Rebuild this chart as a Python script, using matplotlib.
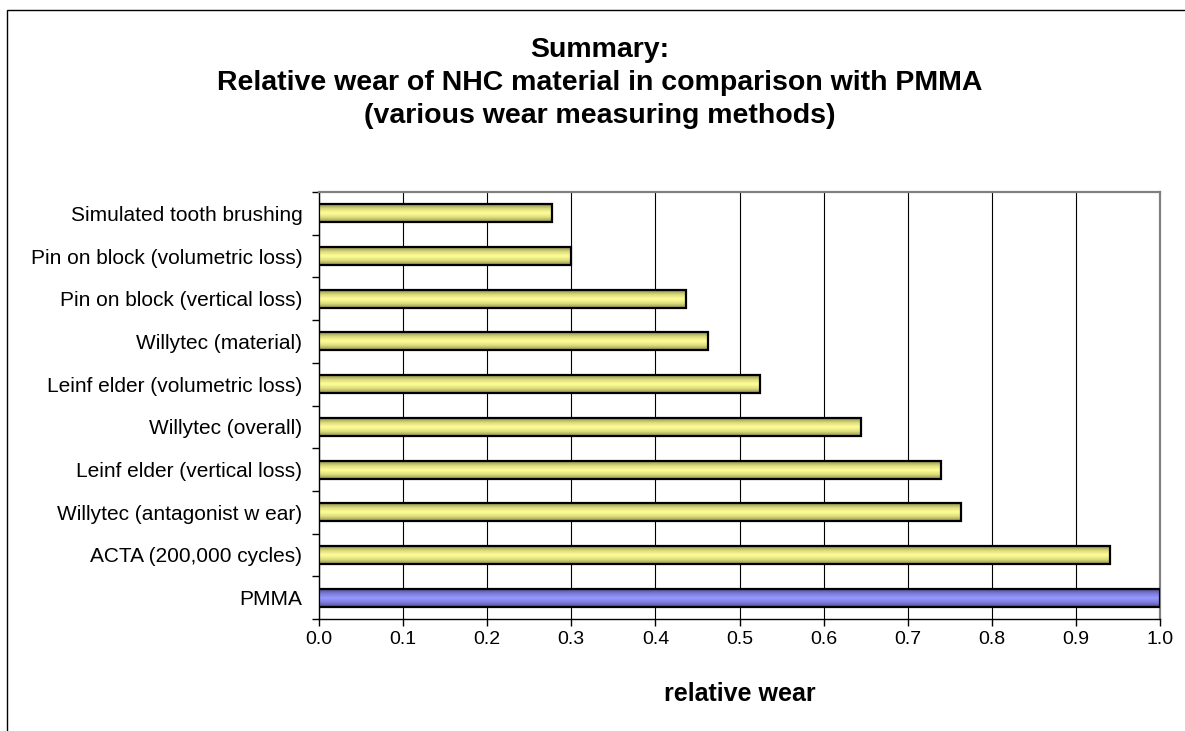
import numpy as np
import matplotlib
matplotlib.use('Agg')
import matplotlib.pyplot as plt
from matplotlib.colors import LinearSegmentedColormap
from matplotlib.patches import Rectangle

plt.rcParams['font.family'] = ['Liberation Sans', 'DejaVu Sans']

# datos, de abajo hacia arriba
metodos = ['PMMA', 'ACTA (200,000 cycles)', 'Willytec (antagonist w ear)',
           'Leinf elder (vertical loss)', 'Willytec (overall)',
           'Leinf elder (volumetric loss)', 'Willytec (material)',
           'Pin on block (vertical loss)', 'Pin on block (volumetric loss)',
           'Simulated tooth brushing']
desgaste = [1.0, 0.940, 0.763, 0.740, 0.645, 0.524, 0.462, 0.436, 0.300, 0.277]
x_ticks = [0.0, 0.1, 0.2, 0.3, 0.4, 0.5, 0.6, 0.7, 0.8, 0.9, 1.0]

amarillo = LinearSegmentedColormap.from_list('am', ['#8f8f50', '#dcdc7c', '#ffff99', '#dcdc7c', '#8f8f50'])
azul = LinearSegmentedColormap.from_list('az', ['#50508f', '#7c7cdc', '#9999ff', '#7c7cdc', '#50508f'])

fig = plt.figure(figsize=(11.85, 7.31), dpi=100)
W, H = 1185, 731
ax = fig.add_axes([319 / W, 1 - 619 / H, (1160 - 319) / W, (619 - 192) / H])

y = np.arange(len(metodos))
barras = ax.barh(y, desgaste, height=0.42, color='none', edgecolor='black', linewidth=1.6, zorder=4)

# degradado dentro de cada barra
grad = np.linspace(0, 1, 64).reshape(-1, 1)
for i, b in enumerate(barras):
    cmap = azul if metodos[i] == 'PMMA' else amarillo
    x0, y0 = b.get_x(), b.get_y()
    im = ax.imshow(grad, cmap=cmap, aspect='auto', zorder=3,
                   extent=[x0, x0 + b.get_width(), y0, y0 + b.get_height()])
    im.set_clip_path(b)

ax.set_xlim(0, 1.0)
ax.set_ylim(-0.5, len(metodos) - 0.5)
ax.set_xticks(x_ticks)
ax.set_xticklabels([f'{t:.1f}' for t in x_ticks], fontsize=14)
ax.set_yticks(y)
ax.set_yticklabels(metodos, fontsize=15)
ax.set_yticks(np.arange(len(metodos) + 1) - 0.5, minor=True)
ax.tick_params(axis='y', which='major', length=0, pad=12)
ax.tick_params(axis='y', which='minor', length=5, width=1, direction='out')
ax.tick_params(axis='x', length=5, width=1, direction='out', pad=4)

ax.grid(True, axis='x', color='black', linewidth=0.8, zorder=1)
ax.set_axisbelow(True)
ax.spines['left'].set_color('black')
ax.spines['bottom'].set_color('black')
ax.spines['left'].set_linewidth(1.0)
ax.spines['bottom'].set_linewidth(1.0)
ax.spines['top'].set_color('#808080')
ax.spines['right'].set_color('#808080')
ax.spines['top'].set_linewidth(1.6)
ax.spines['right'].set_linewidth(1.6)

ax.set_xlabel('relative wear', fontsize=18, fontweight='bold', labelpad=24)

fig.text(600 / W, 1 - 50 / H, 'Summary:', ha='center', va='center', fontsize=20.5, fontweight='bold')
fig.text(600 / W, 1 - 83 / H, 'Relative wear of NHC material in comparison with PMMA',
         ha='center', va='center', fontsize=20.5, fontweight='bold')
fig.text(600 / W, 1 - 116 / H, '(various wear measuring methods)',
         ha='center', va='center', fontsize=20.5, fontweight='bold')

# marco del grafico
fig.patches.append(Rectangle((7 / W, -0.1), 1.2, 1 - 10 / H + 0.1, transform=fig.transFigure,
                             fill=False, edgecolor='black', linewidth=1.0))

fig.savefig('out.png', dpi=100)
